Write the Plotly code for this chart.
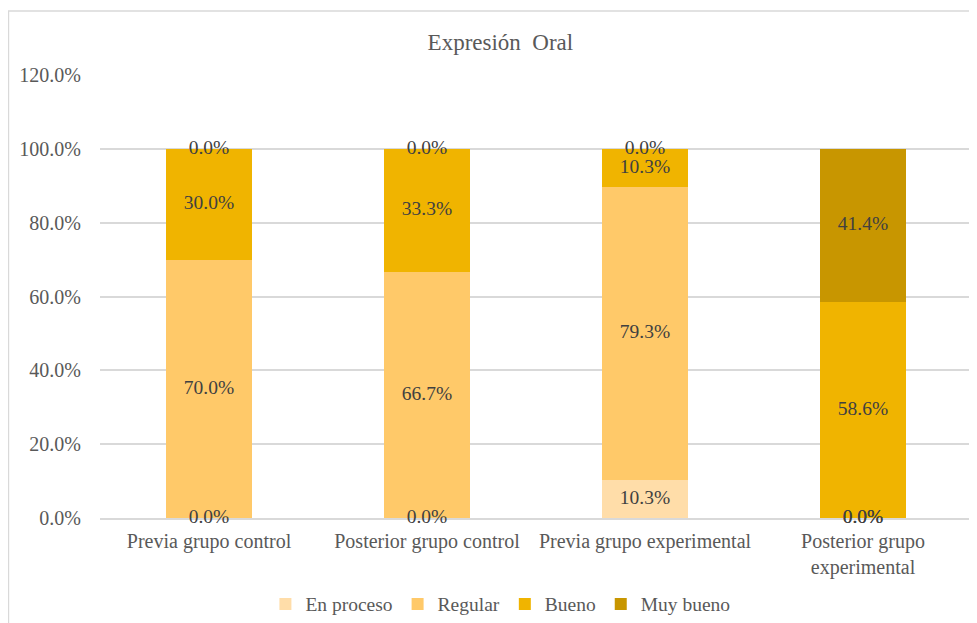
import numpy as np
import plotly.graph_objects as go

categories = ["Previa grupo control", "Posterior grupo control",
              "Previa grupo experimental", "Posterior grupo<br>experimental"]
series_names = ["En proceso", "Regular", "Bueno", "Muy bueno"]
en_proceso = [0.0, 0.0, 10.3, 0.0]
regular = [70.0, 66.7, 79.3, 0.0]
bueno = [30.0, 33.3, 10.3, 58.6]
muy_bueno = [0.0, 0.0, 0.0, 41.4]
tick_vals = [0, 20, 40, 60, 80, 100, 120]

colors = ["#FFDDA9", "#FFC969", "#F0B400", "#C89600"]
FONT = "Liberation Serif, Times New Roman, serif"

fig = go.Figure()
series = [en_proceso, regular, bueno, muy_bueno]
base = np.zeros(len(categories))
label_x, label_y, label_t = [], [], []
for name, vals, col in zip(series_names, series, colors):
    vals = np.array(vals)
    fig.add_trace(go.Bar(x=categories, y=vals, name=name, marker_color=col,
                         marker_line_width=0, hoverinfo="skip"))
    label_x += categories
    label_y += list(base + vals / 2)
    label_t += [f"{v:.1f}%" for v in vals]
    base = base + vals

# data labels (zero segments sit on the axis, so no clipping)
fig.add_trace(go.Scatter(x=label_x, y=label_y, text=label_t, mode="text",
                         textfont=dict(family=FONT, size=19.5, color="#404040"),
                         cliponaxis=False, showlegend=False, hoverinfo="skip"))

# the page body adds an 8px offset, so margins are shifted to compensate
fig.update_layout(
    barmode="stack",
    bargap=0.605,
    width=977, height=623,
    margin=dict(l=92, r=13, t=67, b=113),
    plot_bgcolor="white", paper_bgcolor="white",
    font=dict(family=FONT, color="#595959", size=20),
    title=dict(text="Expresión  Oral", x=0.504, xref="container",
               xanchor="center", y=0.945, yref="container",
               yanchor="middle", automargin=False,
               font=dict(size=23, color="#595959")),
    legend=dict(orientation="h", x=0.504, xref="container", xanchor="center",
                y=0.043, yref="container", yanchor="middle",
                font=dict(size=19.5, color="#595959"),
                itemwidth=30, traceorder="normal"),
    showlegend=True,
)
fig.update_xaxes(showline=True, linecolor="#D9D9D9", linewidth=1.5,
                 ticks="", tickfont=dict(size=20), fixedrange=True,
                 ticklabelstandoff=4, automargin=False, layer="below traces")
fig.update_yaxes(range=[0, 120], tickvals=tick_vals,
                 ticktext=[f"{v:.1f}%" for v in tick_vals],
                 gridcolor="#D9D9D9", gridwidth=1.5, zeroline=False,
                 tickfont=dict(size=20), ticks="", ticklabelstandoff=18,
                 automargin=False, layer="below traces")

# chart border
fig.add_shape(type="rect", xref="paper", yref="paper",
              x0=-0.105, x1=1.02, y0=-0.26, y1=1.1445,
              line=dict(color="#D9D9D9", width=1.5), layer="below")

fig.write_html("out.html")
